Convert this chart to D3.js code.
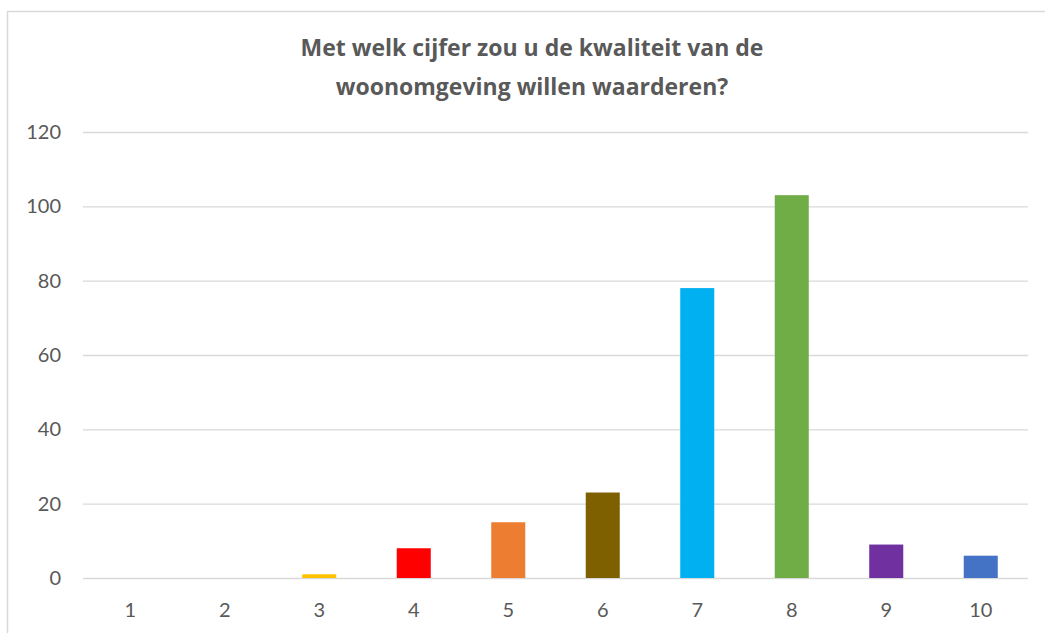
<!DOCTYPE html>
<html>
<head>
<meta charset="utf-8">
<script src="https://cdn.jsdelivr.net/npm/d3@7"></script>
<style>
  body { margin: 0; background: #fff; }
  svg { display: block; font-family: Lato, "Open Sans", sans-serif; }
</style>
</head>
<body>
<div id="chart"></div>
<script>
// chart data
var categories = ["1", "2", "3", "4", "5", "6", "7", "8", "9", "10"];
var values = [0, 0, 1, 8, 15, 23, 78, 103, 9, 6];
var barColors = ["#5B9BD5", "#A5A5A5", "#FFC000", "#FF0000", "#ED7D31", "#7F6000", "#00B0F0", "#70AD47", "#7030A0", "#4472C4"];
var yTicks = [0, 20, 40, 60, 80, 100, 120];
var titleLines = ["Met welk cijfer zou u de kwaliteit van de", "woonomgeving willen waarderen?"];

var width = 1045, height = 633;
var margin = {top: 132, right: 17, bottom: 55, left: 83};

var svg = d3.select("#chart").append("svg")
    .attr("width", width)
    .attr("height", height);

// chart frame
svg.append("rect")
    .attr("x", 7.5).attr("y", 11.5)
    .attr("width", width + 10).attr("height", height)
    .attr("fill", "#fff")
    .attr("stroke", "#d9d9d9")
    .attr("stroke-width", 1.5);

var x = d3.scaleBand()
    .domain(categories)
    .range([margin.left, width - margin.right])
    .paddingInner(0.64)
    .paddingOuter(0.32);

var y = d3.scaleLinear()
    .domain([0, 120])
    .range([height - margin.bottom, margin.top]);

// gridlines
svg.append("g").selectAll("line").data(yTicks)
    .join("line")
    .attr("x1", margin.left).attr("x2", width - margin.right)
    .attr("y1", function(d){ return y(d) + 0.5; })
    .attr("y2", function(d){ return y(d) + 0.5; })
    .attr("stroke", "#d9d9d9")
    .attr("stroke-width", 1.3);

// y labels
svg.append("g").selectAll("text").data(yTicks)
    .join("text")
    .attr("x", 61)
    .attr("y", function(d){ return y(d); })
    .attr("dy", "0.35em")
    .attr("text-anchor", "end")
    .attr("fill", "#595959")
    .style("font-size", "20px")
    .text(function(d){ return d; });

// bars
svg.append("g").selectAll("rect").data(values)
    .join("rect")
    .attr("x", function(d, i){ return x(categories[i]); })
    .attr("width", x.bandwidth())
    .attr("y", function(d){ return y(d); })
    .attr("height", function(d){ return y(0) - y(d); })
    .attr("fill", function(d, i){ return barColors[i]; });

// x labels
svg.append("g").selectAll("text").data(categories)
    .join("text")
    .attr("x", function(d){ return x(d) + x.bandwidth() / 2; })
    .attr("y", 610)
    .attr("dy", "0.35em")
    .attr("text-anchor", "middle")
    .attr("fill", "#595959")
    .style("font-size", "20px")
    .text(function(d){ return d; });

// title
svg.append("g").selectAll("text").data(titleLines)
    .join("text")
    .attr("x", 532)
    .attr("y", function(d, i){ return 48 + i * 39; })
    .attr("dy", "0.35em")
    .attr("text-anchor", "middle")
    .attr("fill", "#595959")
    .style("font-family", "'Open Sans', sans-serif")
    .style("font-size", "23px")
    .style("font-weight", "bold")
    .text(function(d){ return d; });
</script>
</body>
</html>
